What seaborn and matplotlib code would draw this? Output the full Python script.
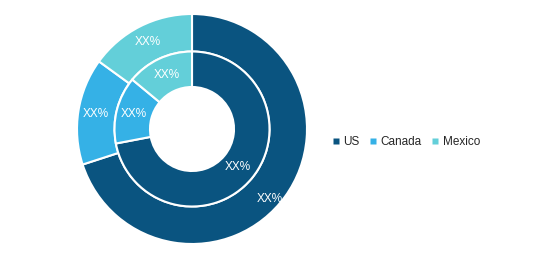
import matplotlib
matplotlib.use("Agg")
import matplotlib.pyplot as plt
from matplotlib.lines import Line2D
import numpy as np
import seaborn as sns

categories = ["US", "Canada", "Mexico"]
outer_values = [70, 15, 15]
inner_values = [72, 14, 14]
label_text = "XX%"
colors = ["#0A5480", "#35B1E6", "#63CFD9"]

sns.set_theme(style="white")
plt.rcParams['font.family'] = ['Liberation Sans', 'DejaVu Sans']

W, H = 537, 271
fig = plt.figure(figsize=(W / 100, H / 100), dpi=100)
cx, cy, R = 192, 129, 115
ax = fig.add_axes([(cx - R) / W, (H - cy - R) / H, 2 * R / W, 2 * R / H])

r_out = 1.0
r_mid = 77.5 / R
r_in = 42 / R

wp = dict(edgecolor="white", linewidth=1.5)
outer, _, outer_txt = ax.pie(outer_values, radius=r_out, colors=colors, startangle=90,
                             counterclock=False, autopct=lambda p: label_text,
                             pctdistance=0.85,
                             wedgeprops=dict(width=r_out - r_mid, **wp),
                             textprops=dict(color="white", fontsize=8.5))
inner, _, inner_txt = ax.pie(inner_values, radius=r_mid, colors=colors, startangle=90,
                             counterclock=False, autopct=lambda p: label_text,
                             pctdistance=0.77,
                             wedgeprops=dict(width=r_mid - r_in, **wp),
                             textprops=dict(color="white", fontsize=8.5))
# outer US label sits a bit lower/outward in the reference
w0 = outer[0]
ang = np.deg2rad((w0.theta1 + w0.theta2) / 2 - 6)
outer_txt[0].set_position((0.91 * np.cos(ang), 0.91 * np.sin(ang)))

ax.set_xlim(-1, 1)
ax.set_ylim(-1, 1)
ax.set_aspect("equal")
ax.axis("off")

handles = [Line2D([0], [0], marker="s", linestyle="none", markersize=4.5,
                  markerfacecolor=c, markeredgecolor="none") for c in colors]
fig.legend(handles, categories, loc="center", bbox_to_anchor=(406 / W, (H - 142) / H),
           ncol=3, frameon=False, fontsize=8.5, handlelength=0.6, handletextpad=0.3,
           columnspacing=0.9, borderaxespad=0)

fig.savefig("out.png", dpi=100)
